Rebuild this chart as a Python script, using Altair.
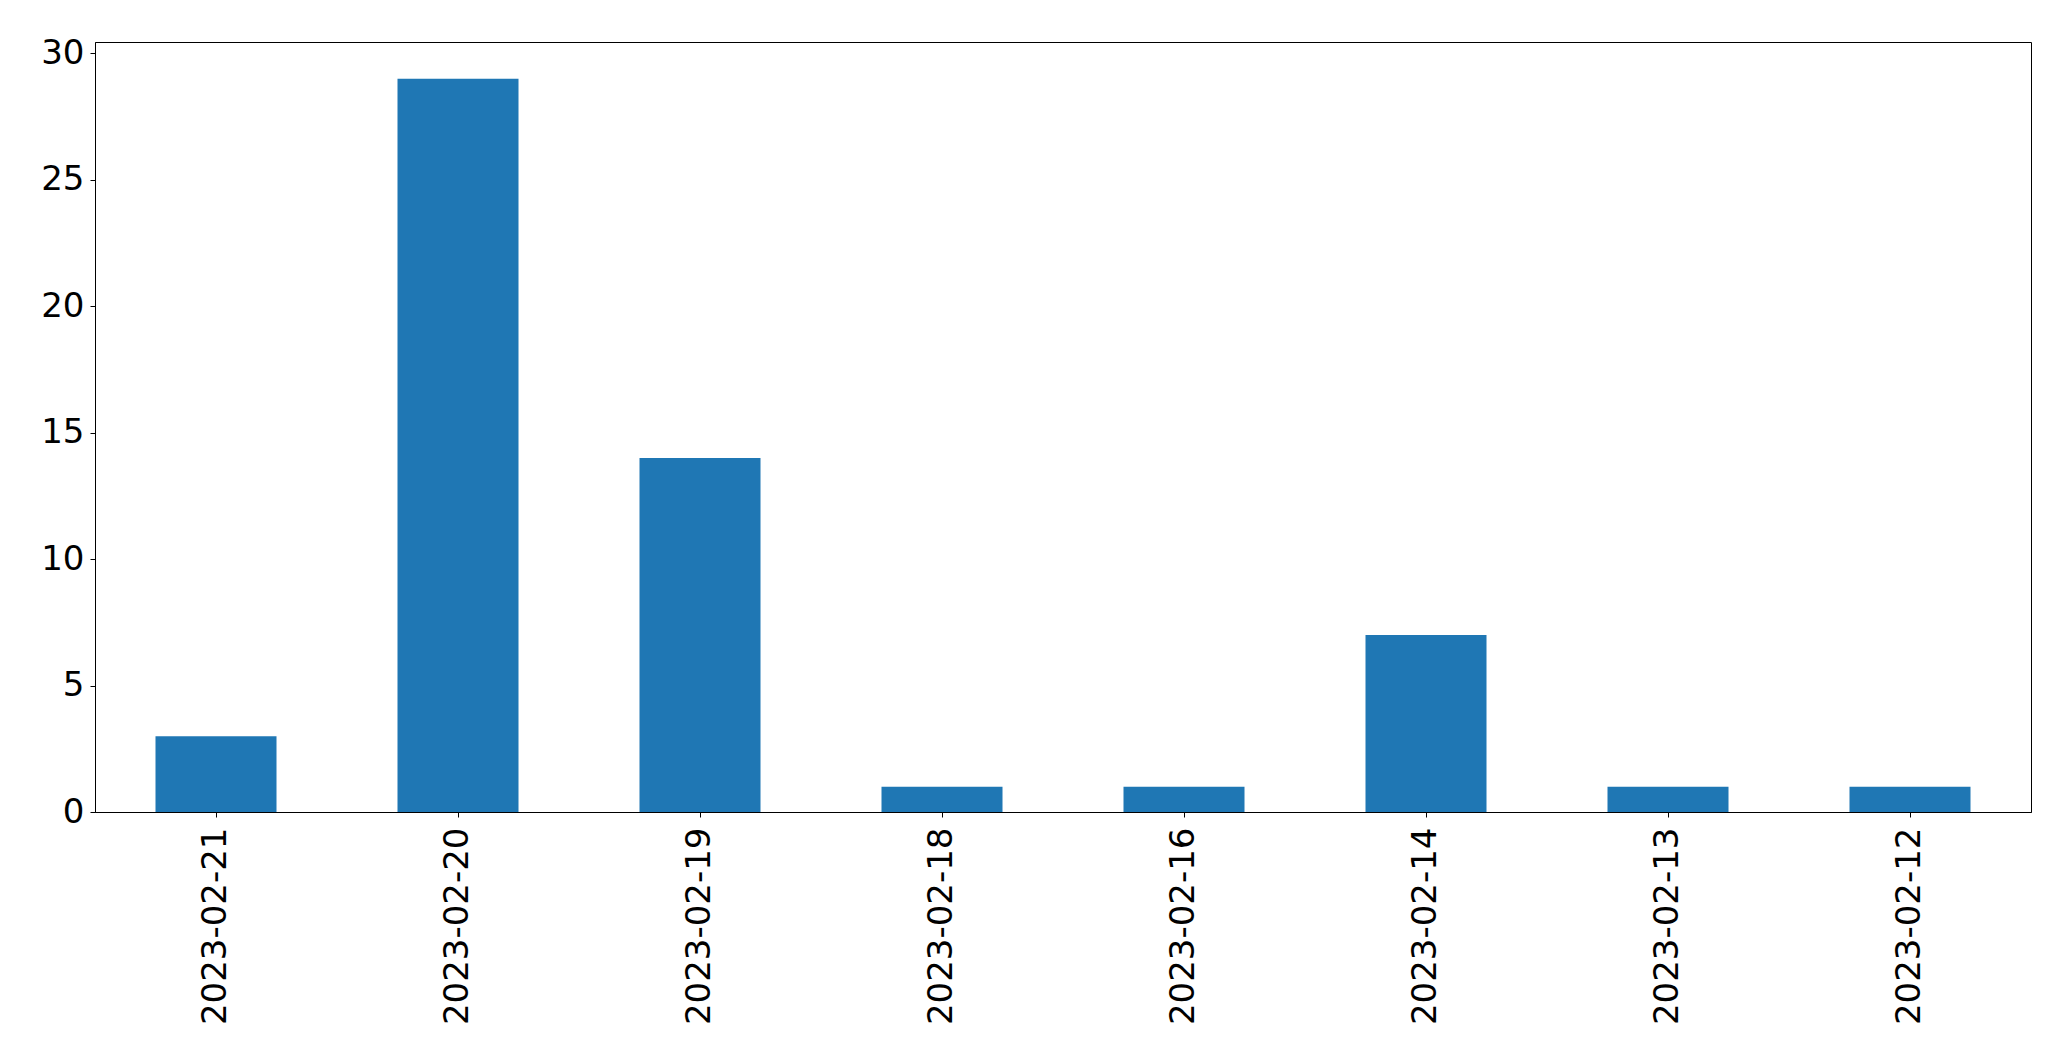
import altair as alt
import pandas as pd

dates = ["2023-02-21", "2023-02-20", "2023-02-19", "2023-02-18",
         "2023-02-16", "2023-02-14", "2023-02-13", "2023-02-12"]
counts = [3, 29, 14, 1, 1, 7, 1, 1]
y_ticks = [0, 5, 10, 15, 20, 25, 30]

df = pd.DataFrame({"date": dates, "count": counts})

chart = alt.Chart(df).mark_bar(color="#1f77b4").encode(
    x=alt.X("date:N", sort=None, title=None,
            scale=alt.Scale(paddingInner=0.5, paddingOuter=0.25),
            axis=alt.Axis(labelAngle=-90, labelAlign="right", labelBaseline="middle",
                          labelFont="DejaVu Sans", labelFontSize=34, labelColor="black",
                          labelPadding=10, tickSize=5, tickColor="black",
                          domainColor="black", labelOverlap=False, labelLimit=0)),
    y=alt.Y("count:Q", title=None,
            scale=alt.Scale(domain=[0, 30.45], nice=False, zero=True),
            axis=alt.Axis(values=y_ticks, grid=False, labelFont="DejaVu Sans",
                          labelFontSize=34, labelColor="black", labelPadding=6,
                          tickSize=5, tickColor="black", domainColor="black")),
).properties(
    width=1936, height=770,
    autosize=alt.AutoSizeParams(type="none"),
    padding={"left": 87, "top": 34, "right": 32, "bottom": 240},
).configure(background="white").configure_view(stroke="black", strokeWidth=1)

chart.save("out.html", embed_options={"renderer": "svg", "actions": False})
